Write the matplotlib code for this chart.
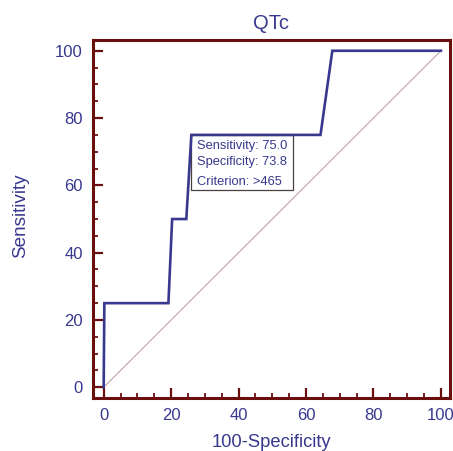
import matplotlib
matplotlib.use("Agg")
import matplotlib.pyplot as plt
from matplotlib.ticker import MultipleLocator
from matplotlib.patches import Rectangle

plt.rcParams['font.family'] = ['Liberation Sans', 'DejaVu Sans']

# ROC curve data (100-Specificity, Sensitivity)
fpr = [0, 0.2, 19.2, 20.3, 24.5, 26.0, 64.3, 67.8, 100]
tpr = [0, 25, 25, 50, 50, 75, 75, 100, 100]
diag_x = [0, 100]
diag_y = [0, 100]
x_ticks = [0, 20, 40, 60, 80, 100]
y_ticks = [0, 20, 40, 60, 80, 100]
box_lines = ["Sensitivity: 75.0", "Specificity: 73.8", "Criterion: >465"]

navy = '#38388f'
spine_c = '#6b0e0e'

fig = plt.figure(figsize=(4.53, 4.51), dpi=100)
ax = fig.add_axes([0.2046, 0.1169, 0.9934 - 0.2046, 0.9113 - 0.1169])

ax.plot(diag_x, diag_y, color='#bfa5a5', lw=0.8, zorder=1)
ax.plot(fpr, tpr, color=navy, lw=1.9, zorder=3, solid_joinstyle='miter')

ax.set_xlim(-3.26, 102.7)
ax.set_ylim(-3.27, 103.2)
ax.set_xticks(x_ticks)
ax.set_yticks(y_ticks)
ax.xaxis.set_minor_locator(MultipleLocator(5))
ax.yaxis.set_minor_locator(MultipleLocator(5))
ax.tick_params(which='major', direction='in', length=7.5, width=1.6, color=spine_c,
               labelcolor=navy, labelsize=12, pad=7)
ax.tick_params(which='minor', direction='in', length=3.5, width=1.3, color=spine_c)
for s in ax.spines.values():
    s.set_color(spine_c)
    s.set_linewidth(2.2)

ax.set_title("QTc", color=navy, fontsize=14.5, pad=8)
ax.set_xlabel("100-Specificity", color=navy, fontsize=13.2, labelpad=8)
ax.set_ylabel("Sensitivity", color=navy, fontsize=13.6, labelpad=19, y=0.51)

# annotation box
ax.add_patch(Rectangle((26.0, 58.6), 56.1 - 26.0, 75 - 58.6, facecolor='white',
                       edgecolor='#4a4040', lw=0.9, zorder=2))
ys = [71.6, 66.8, 61.1]
for t, yv in zip(box_lines, ys):
    ax.text(27.6, yv, t, color=navy, fontsize=9.3, va='center', ha='left', zorder=4)

fig.savefig("out.png", dpi=100)
